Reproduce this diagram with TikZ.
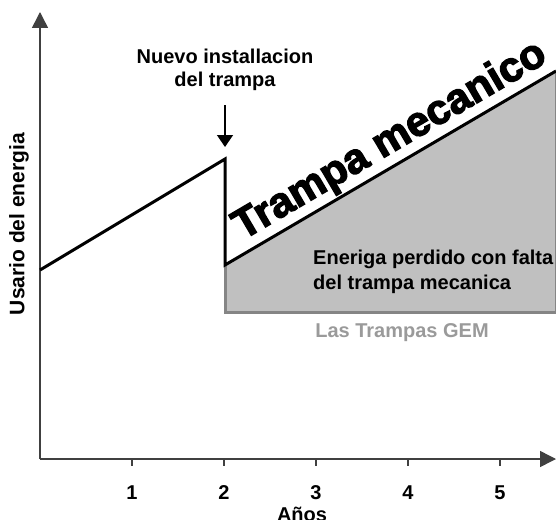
\documentclass[tikz,border=0pt]{standalone}
\usepackage{fontspec}
\setmainfont{Liberation Sans}
\newfontfamily\heavyfont[UprightFeatures={FakeBold=3}, BoldFeatures={FakeBold=3}]{Liberation Sans}
\usetikzlibrary{arrows.meta}
\definecolor{lossfill}{HTML}{C0C0C0}
\definecolor{lossedge}{HTML}{858585}
\definecolor{gemtext}{HTML}{9A9A9A}
\definecolor{axisgray}{HTML}{404040}

\begin{document}
\begin{tikzpicture}[x = 1pt, y = -1pt,
    axis/.style = {axisgray, line width = 1.5pt},
    lbl/.style = {font = \fontsize{20}{22.5}\selectfont\bfseries, inner sep = 0pt},
    usage/.style = {line width = 3pt}]

      \useasboundingbox (0,0) rectangle (556,519);

      \coordinate (o) at (40,459);
      \coordinate (ytop) at (40,12);
      \coordinate (xend) at (556,459);
      \coordinate (start) at (40,270);
      \coordinate (peak) at (225,159);
      \coordinate (drop) at (225,265);
      \coordinate (lineend) at (556,71);
      \coordinate (gemleft) at (225,312);
      \coordinate (gemright) at (556,312);
      \coordinate (arrtop) at (225,105);

      \fill[lossfill] (drop) -- (lineend) -- (gemright) -- (gemleft) -- cycle;
      \draw[lossedge, line width = 3pt] (drop) -- (gemleft) -- (gemright) -- (lineend);

      \draw[axis, -{Triangle[width = 16pt, length = 16pt]}] (o) -- (ytop);
      \draw[axis, -{Triangle[width = 16pt, length = 16pt]}] (o) -- (xend);
      \foreach \k in {1,...,5} {
        \draw[axis] (40+92*\k,459) -- (40+92*\k,466);
        \node[lbl] (tick\k) at (40+92*\k,493) {\k};
      }
      \node[lbl, anchor = base] (years) at (302,521) {Años};
      \node[lbl, rotate = 90, font = \fontsize{21}{22}\selectfont\bfseries]
        (usage) at (19,224) {Usario del energia};

      \draw[usage] (start) -- (peak) -- (drop) -- (lineend)
        node[pos = .535, sloped, above, inner sep = 2pt,
             font = \fontsize{42}{42}\selectfont\heavyfont\bfseries] (trap) {Trampa mecanico};

      \node[lbl, align = center] (install) at (225,70) {Nuevo installacion\\del trampa};
      \draw[line width = 1.5pt, -{Triangle[width = 16pt, length = 12pt]}] (arrtop) -- (peak)
        [shorten > = 12pt];

      \node[lbl, align = left, anchor = west, font = \fontsize{20}{25}\selectfont\bfseries]
        (loss) at (313,272) {Eneriga perdido con falta\\del trampa mecanica};
      \node[lbl, gemtext] (gem) at (402,333) {Las Trampas GEM};
    \end{tikzpicture}
\end{document}
